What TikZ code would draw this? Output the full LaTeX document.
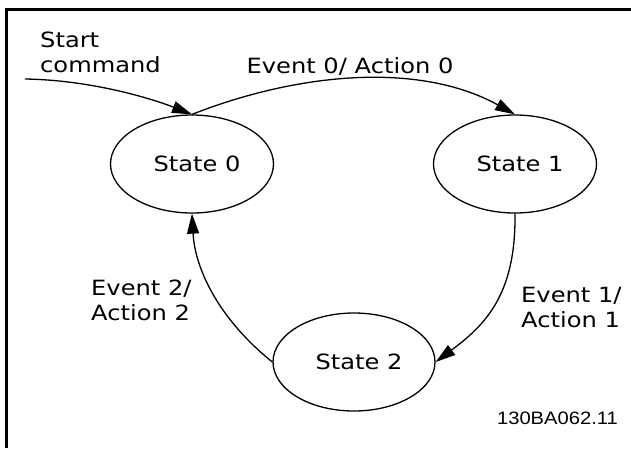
\documentclass[tikz,border=0pt]{standalone}
\usepackage{fontspec}
\setmainfont{DejaVu Sans}[FakeStretch=1.15]
\newfontfamily\codefont{Liberation Sans}[FakeStretch=1.12]
\usetikzlibrary{shapes.geometric,arrows.meta}
\tikzset{
  stateshape/.style={draw, ellipse, line width=1.3pt, inner sep=0pt, minimum width=163pt, minimum height=98pt},
  statetext/.style={inner sep=0pt, font=\fontsize{21}{25}\selectfont},
  lbl/.style={inner sep=0pt, font=\fontsize{21}{25}\selectfont},
  arr/.style={line width=1.3pt, -{Triangle[length=20pt,width=12pt]}},
  frame/.style={line width=2.6pt}
}
\begin{document}
\begin{tikzpicture}[x=1pt,y=-1pt]
\useasboundingbox (0,0) rectangle (631,448);
% frame (top and left edges)
\coordinate (fa) at (6.5,448);
\coordinate (fb) at (6.5,9.7);
\coordinate (fc) at (631,9.7);
\draw[frame] (fa) -- (fb) -- (fc);
% states
\node[stateshape] (s0) at (192,164) {};
\node[stateshape] (s1) at (515,164) {};
\node[stateshape, minimum width=162pt] (s2) at (354,362) {};
\node[statetext] (t0) at ([xshift=5pt]s0.center) {State 0};
\node[statetext] (t1) at ([xshift=5pt]s1.center) {State 1};
\node[statetext] (t2) at ([xshift=5pt]s2.center) {State 2};
% labels (base anchor = baseline of the last line)
\node[lbl, anchor=base west, align=left] (lstart) at (40,72) {Start\\command};
\node[lbl, anchor=base] (l0) at (350,73) {Event 0/ Action 0};
\node[lbl, anchor=base west, align=left] (l1) at (521,327) {Event 1/\\Action 1};
\node[lbl, anchor=base west, align=left] (l2) at (91,320) {Event 2/\\Action 2};
\node[inner sep=0pt, anchor=base east, font=\codefont\fontsize{18}{20}\selectfont] (code) at (618,424) {130BA062.11};
% connectors
\coordinate (st) at (25,79);
\draw[arr] (st) .. controls (90,80) and (150,98) .. (s0.north);
\draw[arr] (s0.north) .. controls (300,72) and (420,62) .. (s1.north);
\draw[arr] (s1.south) .. controls (516,295) and (485,325) .. (s2.east);
\draw[arr] (s2.west) .. controls (220,320) and (195,270) .. (s0.south);
\end{tikzpicture}
\end{document}
